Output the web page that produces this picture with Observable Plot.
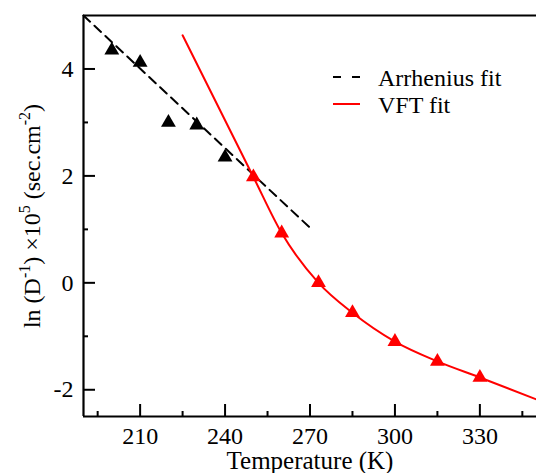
<!DOCTYPE html>
<html>
<head>
<meta charset="utf-8">
<script src="https://cdn.jsdelivr.net/npm/d3@7"></script>
<script src="https://cdn.jsdelivr.net/npm/@observablehq/plot@0.6"></script>
<style>
  html, body { margin: 0; padding: 0; background: white; }
  svg { display: block; }
</style>
</head>
<body>
<div id="chart"></div>
<script>
// Arrhenius-region data (black triangles)
const arrT = [200, 210, 220, 230, 240];
const arrV = [4.35, 4.12, 3.0, 2.95, 2.35];
// VFT-region data (red triangles)
const vftT = [250, 260, 273, 285, 300, 315, 330];
const vftV = [1.98, 0.93, 0.0, -0.56, -1.1, -1.47, -1.77];
// Arrhenius fit (dashed line)
const arrFitT = [190, 270];
const arrFitV = [5.0, 1.03];
// VFT fit (red line)
const vftFitT = [225, 250, 260, 273, 285, 300, 315, 330, 350];
const vftFitV = [4.63, 1.98, 0.93, 0.0, -0.56, -1.1, -1.47, -1.77, -2.18];
// Axes
const xDomain = [190, 350];
const yDomain = [-2.5, 5];
const xMajor = [210, 240, 270, 300, 330];
const xMinor = [195, 225, 255, 285, 315, 345];
const yMajor = [-2, 0, 2, 4];
const yMinor = [-1, 1, 3];
const legendLabels = ["Arrhenius fit", "VFT fit"];

const zip = (xs, ys) => xs.map((x, i) => ({x, y: ys[i]}));
const arrPts = zip(arrT, arrV);
const vftPts = zip(vftT, vftV);
const arrFit = zip(arrFitT, arrFitV);
const vftFit = zip(vftFitT, vftFitV);

const font = "'Liberation Serif', 'Times New Roman', serif";

const chart = Plot.plot({
  width: 536,
  height: 473,
  marginLeft: 83,
  marginTop: 15,
  marginRight: 0,
  marginBottom: 57,
  style: {fontFamily: font, fontSize: "24px", background: "white", color: "black", overflow: "visible"},
  x: {domain: xDomain},
  y: {domain: yDomain},
  marks: [
    // frame lines (top, left, bottom)
    Plot.ruleY([yDomain[1]], {stroke: "black", strokeWidth: 2.2}),
    Plot.ruleY([yDomain[0]], {stroke: "black", strokeWidth: 2.2}),
    Plot.ruleX([xDomain[0]], {stroke: "black", strokeWidth: 2.2}),
    // inward tick marks
    Plot.axisX(xMajor, {tickSize: -12, text: null, strokeWidth: 2, label: null}),
    Plot.axisX(xMinor, {tickSize: -5, text: null, strokeWidth: 2, label: null}),
    Plot.axisY(yMajor, {tickSize: -12, text: null, strokeWidth: 2, label: null}),
    Plot.axisY(yMinor, {tickSize: -5, text: null, strokeWidth: 2, label: null}),
    // tick labels
    Plot.axisX(xMajor, {tickSize: 0, tickPadding: 10, label: null, fontSize: 24, tickFormat: d => String(d)}),
    Plot.axisY(yMajor, {tickSize: 0, tickPadding: 10, label: null, fontSize: 24, tickFormat: d => String(d)}),
    // fits
    Plot.line(arrFit, {x: "x", y: "y", stroke: "black", strokeWidth: 2, strokeDasharray: "9,6"}),
    Plot.line(vftFit, {x: "x", y: "y", stroke: "#ff0000", strokeWidth: 2, curve: "monotone-x"}),
    // data
    Plot.dot(arrPts, {x: "x", y: "y", symbol: "triangle", r: 5.5, fill: "black", stroke: "none"}),
    Plot.dot(vftPts, {x: "x", y: "y", symbol: "triangle", r: 5.5, fill: "#ff0000", stroke: "none"})
  ]
});

document.getElementById("chart").appendChild(chart);

const svg = d3.select(chart);

// x axis label
svg.append("text")
  .attr("x", 310).attr("y", 469)
  .attr("text-anchor", "middle")
  .attr("font-family", font).attr("font-size", 25).attr("fill", "black")
  .text("Temperature (K)");

// y axis label with superscripts
const yl = svg.append("text")
  .attr("transform", "translate(40,216) rotate(-90)")
  .attr("text-anchor", "middle")
  .attr("font-family", font).attr("font-size", 24).attr("fill", "black");
const parts = [["ln (D", false], ["-1", true], [") \u00d710", false], ["5", true], [" (sec.cm", false], ["-2", true], [")", false]];
let raised = false;
parts.forEach(([t, sup]) => {
  const ts = yl.append("tspan").text(t);
  if (sup && !raised) { ts.attr("dy", -10).attr("font-size", 16); raised = true; }
  else if (sup) { ts.attr("font-size", 16); }
  else if (raised) { ts.attr("dy", 10); raised = false; }
});

// legend
const legend = svg.append("g").attr("font-family", font).attr("font-size", 24).attr("text-anchor", "start");
legend.append("line").attr("x1", 333).attr("x2", 360).attr("y1", 77).attr("y2", 77)
  .attr("stroke", "black").attr("stroke-width", 2).attr("stroke-dasharray", "8,11");
legend.append("text").attr("x", 378).attr("y", 86).attr("fill", "black").text(legendLabels[0]);
legend.append("line").attr("x1", 333).attr("x2", 360).attr("y1", 104).attr("y2", 104)
  .attr("stroke", "#ff0000").attr("stroke-width", 2);
legend.append("text").attr("x", 378).attr("y", 113).attr("fill", "black").text(legendLabels[1]);
</script>
</body>
</html>
